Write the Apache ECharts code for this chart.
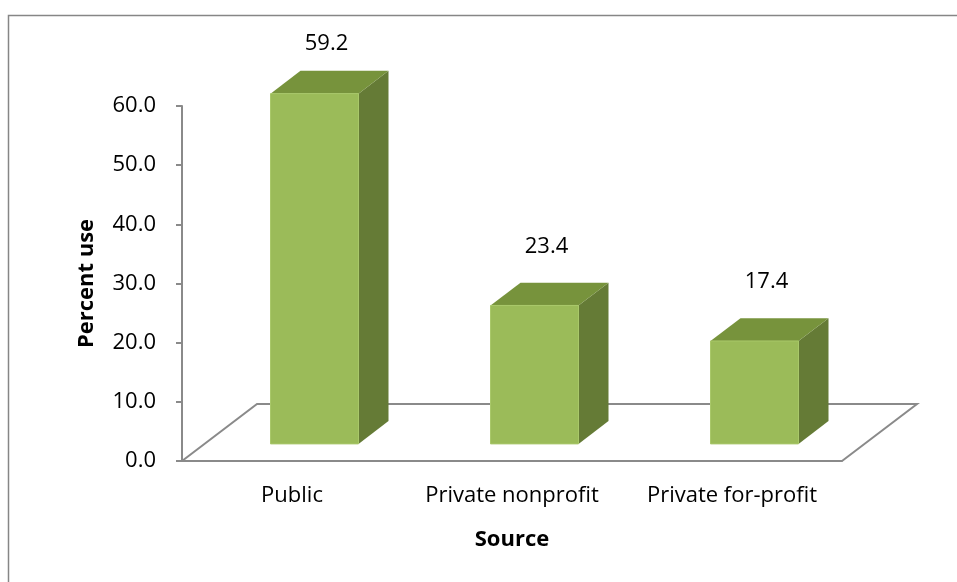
<!DOCTYPE html>
<html>
<head>
<meta charset="utf-8">
<script src="https://cdn.jsdelivr.net/npm/echarts@6/dist/echarts.min.js"></script>
<style>
html,body{margin:0;padding:0;background:#fff;}
#chart{width:957px;height:582px;}
</style>
</head>
<body>
<div id="chart"></div>
<script>
const categories = ['Public', 'Private nonprofit', 'Private for-profit'];
const percentUse = [59.2, 23.4, 17.4];
const yTicks = { min: 0, max: 60, interval: 10 };
const xAxisTitle = 'Source';
const yAxisTitle = 'Percent use';

const FONT = "'Open Sans', 'Noto Sans', sans-serif";
const AXIS_GRAY = '#8a8a8a';
const FRONT = '#9BBB59';
const SIDE = '#657B36';
const TOP = '#77933C';
// floor depth vector (pixels) and bar depth band
const DEPTH = { dx: 75, dy: 57 };
const BAR_DEPTH_START = 0.3, BAR_DEPTH_END = 0.7, BAR_WIDTH_FRAC = 0.4;

const chart = echarts.init(document.getElementById('chart'), null, { renderer: 'canvas' });

function renderFloor(params, api) {
  const cs = params.coordSys;
  const x0 = cs.x, y0 = cs.y + cs.height, x1 = cs.x + cs.width;
  const st = { stroke: AXIS_GRAY, lineWidth: 2, fill: null };
  return {
    type: 'group',
    children: [
      { type: 'polyline', shape: { points: [[x0, y0], [x0 + DEPTH.dx, y0 - DEPTH.dy], [x1 + DEPTH.dx, y0 - DEPTH.dy], [x1, y0]] }, style: st }
    ]
  };
}

function renderBar(params, api) {
  const cs = params.coordSys;
  const idx = api.value(0);
  const val = api.value(1);
  const base = api.coord([idx, 0]);
  const topPt = api.coord([idx, val]);
  const band = api.size([1, 0])[0];
  const w = band * BAR_WIDTH_FRAC;
  const ox = DEPTH.dx * BAR_DEPTH_START, oy = DEPTH.dy * BAR_DEPTH_START;
  const ddx = DEPTH.dx * (BAR_DEPTH_END - BAR_DEPTH_START), ddy = DEPTH.dy * (BAR_DEPTH_END - BAR_DEPTH_START);
  const l = base[0] - w / 2 + ox, r = base[0] + w / 2 + ox;
  const b = base[1] - oy, t = topPt[1] - oy;
  const labelY = Math.max(t - 59, cs.y - 62);
  return {
    type: 'group',
    children: [
      { type: 'polygon', shape: { points: [[r, b], [r + ddx, b - ddy], [r + ddx, t - ddy], [r, t]] }, style: { fill: SIDE } },
      { type: 'polygon', shape: { points: [[l, t], [r, t], [r + ddx, t - ddy], [l + ddx, t - ddy]] }, style: { fill: TOP } },
      { type: 'rect', shape: { x: l, y: t, width: r - l, height: b - t }, style: { fill: FRONT, stroke: '#a9c86a', lineWidth: 1 } },
      { type: 'text', x: base[0] + ox + 12, y: labelY, style: { text: val.toFixed(1), fill: '#000', font: '22px ' + FONT, align: 'center', verticalAlign: 'middle' } }
    ]
  };
}

const option = {
  animation: false,
  backgroundColor: '#fff',
  graphic: [
    { type: 'rect', left: 6, top: 13, shape: { width: 1000, height: 1000 }, style: { fill: null, stroke: '#868686', lineWidth: 1.5 }, silent: true }
  ],
  grid: { left: 182, top: 106, width: 660, height: 355 },
  xAxis: {
    type: 'category',
    data: categories,
    boundaryGap: true,
    axisLine: { show: true, lineStyle: { color: AXIS_GRAY, width: 2 } },
    axisTick: { show: false },
    axisLabel: { fontSize: 22, fontFamily: FONT, color: '#000', margin: 24, interval: 0 },
    name: xAxisTitle,
    nameLocation: 'middle',
    nameGap: 68,
    nameTextStyle: { fontSize: 22, fontWeight: 'bold', fontFamily: FONT, color: '#000' }
  },
  yAxis: {
    type: 'value',
    min: yTicks.min, max: yTicks.max, interval: yTicks.interval,
    axisLine: { show: true, lineStyle: { color: AXIS_GRAY, width: 2 } },
    axisTick: { show: true, length: 6, lineStyle: { color: AXIS_GRAY, width: 2 } },
    splitLine: { show: false },
    axisLabel: { fontSize: 22, fontFamily: FONT, color: '#000', margin: 26, formatter: v => v.toFixed(1), padding: [3, 0, 0, 0] },
    name: yAxisTitle,
    nameLocation: 'middle',
    nameRotate: 90,
    nameGap: 84,
    nameTextStyle: { fontSize: 22, fontWeight: 'bold', fontFamily: FONT, color: '#000' }
  },
  series: [
    { type: 'custom', clip: false, z: 1, renderItem: renderFloor, data: [[0]], silent: true },
    { type: 'custom', clip: false, z: 3, renderItem: renderBar, data: percentUse.map((v, i) => [i, v]), encode: { x: 0, y: 1 } }
  ]
};
chart.setOption(option);
</script>
</body>
</html>
